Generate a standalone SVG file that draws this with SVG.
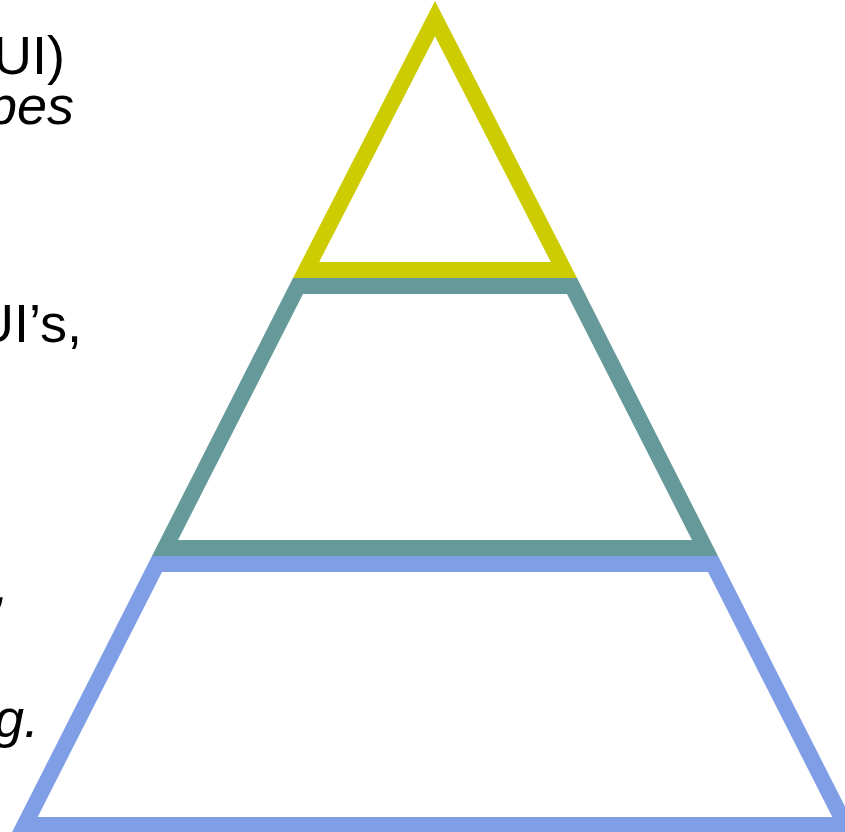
<svg xmlns="http://www.w3.org/2000/svg" width="845" height="832" viewBox="0 0 845 832">
  <style>
    .tier { fill-rule: evenodd; stroke: none; }
    .label { font-family: "Liberation Sans", Arial, sans-serif; font-size: 54px; fill: #000000; }
    .it { font-style: italic; }
  </style>
  <rect width="845" height="832" fill="#ffffff"/>
  <g id="tier-top">
    <path class="tier" fill="#CCCC00" d="M435,1 L577,278 L293,278 Z M435,36.3 L550.8,262 L319.2,262 Z"/>
  </g>
  <g id="tier-middle">
    <path class="tier" fill="#669999" d="M293,278 L577,278 L718,556 L152,556 Z M303,294 L567,294 L692,540 L178,540 Z"/>
  </g>
  <g id="tier-bottom">
    <path class="tier" fill="#7F9EE6" d="M152,556 L718,556 L858.4,833 L11.6,833 Z M162,572 L708,572 L832.3,817 L37.7,817 Z"/>
  </g>
  <g id="labels">
    <text class="label" x="-7" y="74">UI)</text>
    <text class="label it" x="-13" y="124">pes</text>
    <text class="label" x="-25" y="342">UI’s,</text>
    <text class="label it" x="-6" y="603">,</text>
    <text class="label it" x="-6" y="737">g.</text>
  </g>
</svg>
